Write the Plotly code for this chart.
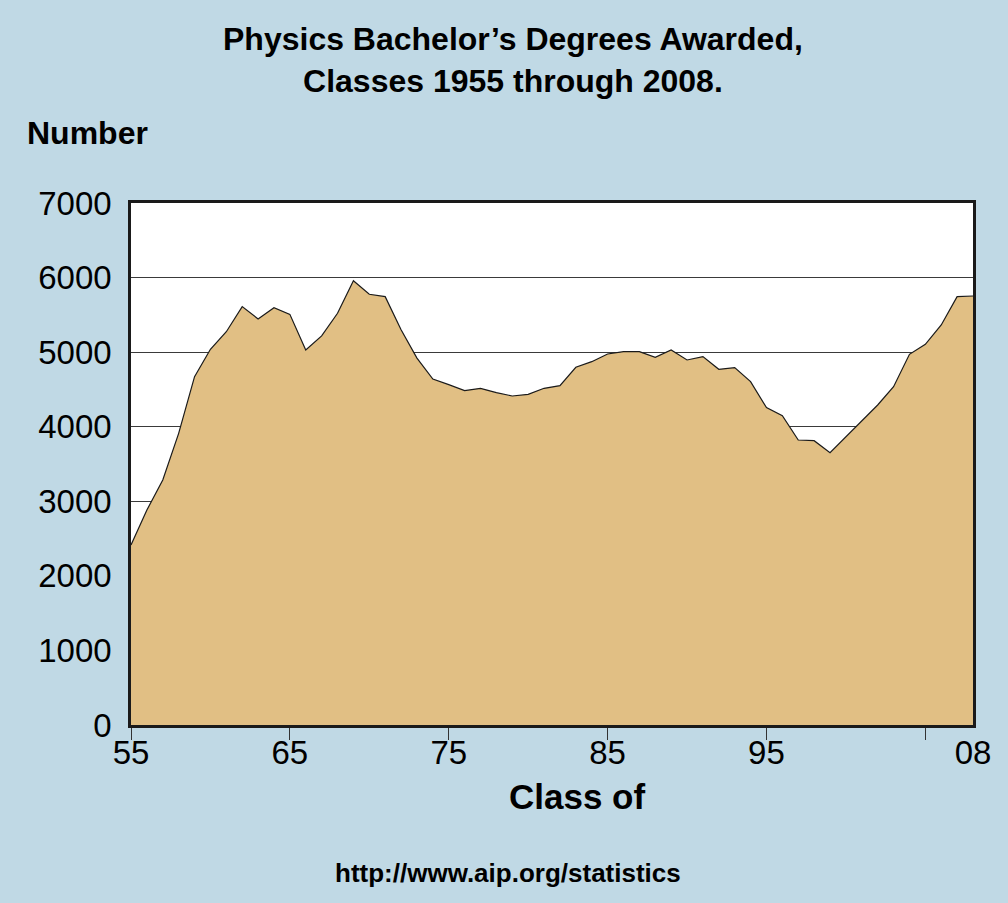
import plotly.graph_objects as go

years = list(range(1955, 2009))
degrees = [2414, 2883, 3285, 3911, 4671, 5038, 5274, 5610, 5445, 5596,
           5507, 5029, 5217, 5521, 5958, 5776, 5744, 5300, 4920, 4640,
           4564, 4484, 4515, 4457, 4412, 4434, 4515, 4550, 4797, 4872,
           4975, 5006, 5006, 4931, 5029, 4895, 4940, 4770, 4792, 4604,
           4256, 4148, 3822, 3813, 3652, 3866, 4067, 4291, 4537, 4971,
           5105, 5364, 5744, 5753]

tick_years = [1955, 1965, 1975, 1985, 1995, 2005]
label_years = [1955, 1965, 1975, 1985, 1995, 2008]
label_text = ["55", "65", "75", "85", "95", "08"]
y_ticks = [0, 1000, 2000, 3000, 4000, 5000, 6000, 7000]

title_text = "Physics Bachelor’s Degrees Awarded,<br>Classes 1955 through 2008."
y_title = "Number"
x_title = "Class of"
source = "http://www.aip.org/statistics"

BG = "#c0d9e5"
FILL = "#e1bf84"
FONT = "Liberation Sans, Arial, Helvetica, sans-serif"

W, H = 1008, 903
L, R, T, B = 131, 973, 203, 725

def px(x):
    return (x - L) / (R - L)

def py(y):
    return (B - y) / (B - T)

fig = go.Figure()
fig.add_trace(go.Scatter(
    x=years, y=degrees, mode="lines", fill="tozeroy",
    fillcolor=FILL, line=dict(color="#1a1a1a", width=1.2),
    hoverinfo="x+y", showlegend=False,
))
# invisible trace so the label axis is drawn
fig.add_trace(go.Scatter(
    x=[years[0], years[-1]], y=[0, 0], xaxis="x2", mode="markers",
    marker=dict(opacity=0), hoverinfo="skip", showlegend=False,
))

fig.update_layout(
    width=W, height=H,
    margin=dict(l=L, r=W - R, t=T, b=H - B, pad=0),
    paper_bgcolor=BG, plot_bgcolor="white",
    font=dict(family=FONT, color="black"),
    showlegend=False,
    xaxis=dict(
        range=[1955, 2008], tickvals=tick_years, showticklabels=False,
        ticks="outside", ticklen=12, tickwidth=1, tickcolor="#333",
        showgrid=False, zeroline=False,
        showline=True, linecolor="#1a1a1a", linewidth=2.5, mirror=True,
    ),
    xaxis2=dict(
        overlaying="x", side="bottom", anchor="y",
        range=[1955, 2008], tickvals=label_years, ticktext=label_text,
        ticks="", ticklabelstandoff=5,
        tickfont=dict(size=33, family=FONT, color="black"),
        showgrid=False, zeroline=False, showline=False,
    ),
    yaxis=dict(
        range=[0, 7000], tickvals=y_ticks,
        tickfont=dict(size=33, family=FONT, color="black"),
        ticks="outside", ticklen=10, tickcolor="rgba(0,0,0,0)",
        showgrid=True, gridcolor="#3a3a3a", gridwidth=1,
        zeroline=False,
        showline=True, linecolor="#1a1a1a", linewidth=2.5, mirror=True,
    ),
)

annotations = [
    dict(text="<b>" + title_text + "</b>", x=px(513), y=py(60),
         xanchor="center", yanchor="middle", font=dict(size=32)),
    dict(text="<b>" + y_title + "</b>", x=px(25), y=py(133),
         xanchor="left", yanchor="middle", font=dict(size=32)),
    dict(text="<b>" + x_title + "</b>", x=px(577), y=py(796),
         xanchor="center", yanchor="middle", font=dict(size=35)),
    dict(text="<b>" + source + "</b>", x=px(508), y=py(873),
         xanchor="center", yanchor="middle", font=dict(size=26)),
]
for a in annotations:
    a.update(xref="paper", yref="paper", showarrow=False)
    a["font"]["family"] = FONT
    a["font"]["color"] = "black"
fig.update_layout(annotations=annotations)

fig.write_html("out.html", config={"displayModeBar": False},
               post_script="document.body.style.margin='0';document.body.style.padding='0';")
